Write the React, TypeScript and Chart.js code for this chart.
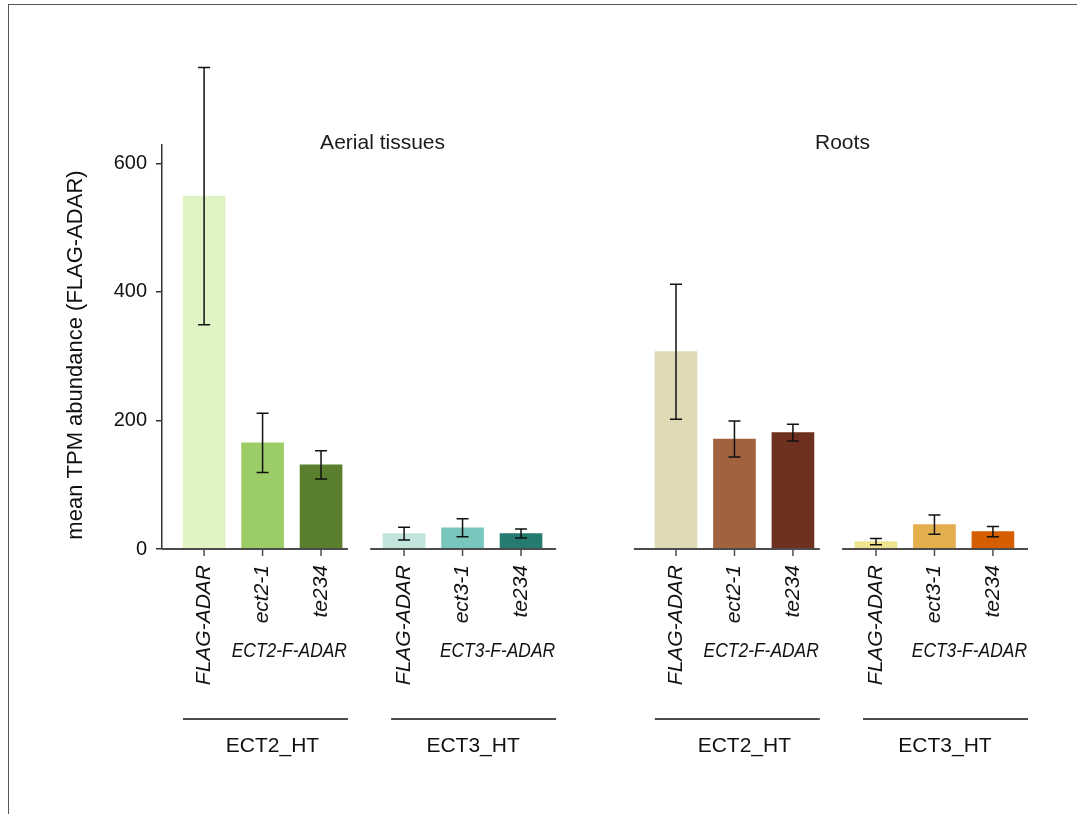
import { useEffect, useRef } from "react";
import { Chart, registerables } from "chart.js";

Chart.register(...registerables);

// ---------------- data ----------------
const panelTitles = ["Aerial tissues", "Roots"];
const groupLabels = ["ECT2_HT", "ECT3_HT"];
const constructLabels = ["ECT2-F-ADAR", "ECT3-F-ADAR"];
const genotypesECT2 = ["FLAG-ADAR", "ect2-1", "te234"];
const genotypesECT3 = ["FLAG-ADAR", "ect3-1", "te234"];

const aerialECT2Mean = [549, 165, 131];
const aerialECT2Err = [200, 46, 22];
const aerialECT3Mean = [24, 33, 24];
const aerialECT3Err = [10, 14, 7];

const rootsECT2Mean = [307, 171, 181];
const rootsECT2Err = [105, 28, 13];
const rootsECT3Mean = [11.5, 38, 27];
const rootsECT3Err = [4.7, 15, 8];

const yTicks = [0, 200, 400, 600];
const yTitle = "mean TPM abundance (FLAG-ADAR)";

const aerialECT2Colors = ["#e0f3c2", "#9bcc66", "#5a7f2d"];
const aerialECT3Colors = ["#c2e4dd", "#79c6bc", "#257b70"];
const rootsECT2Colors = ["#dfd9b6", "#a3623f", "#6e301f"];
const rootsECT3Colors = ["#ede38e", "#e3ae4c", "#d55e00"];

// ---------------- layout ----------------
const GROUP_GAP = 3.42;
const PANEL_GAP = 8.07;
const SEG_PAD = [
  [0.72, 0.46],
  [0.58, 0.6],
];
const GROUP_LINE_PX = 165;
const GROUP_LABEL_OFFSET = [75.5, 83];
const TITLE_OFFSET = [20, 8];
const FONT = '"Liberation Sans", Arial, Helvetica, sans-serif';

export default function App() {
  const ref = useRef<HTMLCanvasElement>(null);

  useEffect(() => {
    const canvas = ref.current;
    if (!canvas) return;

    const means = [
      [aerialECT2Mean, aerialECT3Mean],
      [rootsECT2Mean, rootsECT3Mean],
    ];
    const errs = [
      [aerialECT2Err, aerialECT3Err],
      [rootsECT2Err, rootsECT3Err],
    ];
    const colors = [
      [aerialECT2Colors, aerialECT3Colors],
      [rootsECT2Colors, rootsECT3Colors],
    ];
    const genos = [genotypesECT2, genotypesECT3];

    const xOf = (p: number, g: number, i: number) => p * PANEL_GAP + g * GROUP_GAP + i;

    const points: { x: number; y: number }[] = [];
    const bg: string[] = [];
    const errList: number[] = [];
    for (let p = 0; p < 2; p++)
      for (let g = 0; g < 2; g++)
        for (let i = 0; i < 3; i++) {
          points.push({ x: xOf(p, g, i), y: means[p][g][i] });
          bg.push(colors[p][g][i]);
          errList.push(errs[p][g][i]);
        }

    const xMin = -SEG_PAD[0][0];
    const xMax = xOf(1, 1, 2) + SEG_PAD[1][1];

    const decor = {
      id: "decor",
      afterDatasetsDraw(chart: any) {
        const ctx = chart.ctx as CanvasRenderingContext2D;
        const xs = chart.scales.x;
        const ys = chart.scales.y;
        const base = ys.getPixelForValue(0);
        const meta = chart.getDatasetMeta(0);
        ctx.save();

        // error bars
        ctx.strokeStyle = "#111";
        ctx.lineWidth = 1.5;
        meta.data.forEach((el: any, k: number) => {
          const m = points[k].y;
          const e = errList[k];
          const x = el.x;
          const y1 = ys.getPixelForValue(m + e);
          const y2 = ys.getPixelForValue(Math.max(m - e, 0));
          ctx.beginPath();
          ctx.moveTo(x, y1);
          ctx.lineTo(x, y2);
          ctx.moveTo(x - 6, y1);
          ctx.lineTo(x + 6, y1);
          ctx.moveTo(x - 6, y2);
          ctx.lineTo(x + 6, y2);
          ctx.stroke();
        });

        for (let p = 0; p < 2; p++) {
          for (let g = 0; g < 2; g++) {
            const segStart = xs.getPixelForValue(xOf(p, g, 0) - SEG_PAD[g][0]);
            const segEnd = xs.getPixelForValue(xOf(p, g, 2) + SEG_PAD[g][1]);
            // baseline
            ctx.strokeStyle = "#4d4d4d";
            ctx.lineWidth = 1.8;
            ctx.beginPath();
            ctx.moveTo(segStart, base);
            ctx.lineTo(segEnd, base);
            ctx.stroke();
            // ticks + rotated labels
            for (let i = 0; i < 3; i++) {
              const cx = xs.getPixelForValue(xOf(p, g, i));
              ctx.strokeStyle = "#4d4d4d";
              ctx.lineWidth = 1.5;
              ctx.beginPath();
              ctx.moveTo(cx, base);
              ctx.lineTo(cx, base + 7);
              ctx.stroke();

              ctx.save();
              ctx.translate(cx, 565);
              ctx.rotate(-Math.PI / 2);
              ctx.font = `italic 21px ${FONT}`;
              ctx.fillStyle = "#111";
              ctx.textAlign = "right";
              ctx.textBaseline = "middle";
              ctx.fillText(genos[g][i], 0, 0);
              ctx.restore();
            }
            // construct label (condensed italic)
            ctx.save();
            ctx.translate(segEnd - 1, 651);
            ctx.scale(0.83, 1);
            ctx.font = `italic 21px ${FONT}`;
            ctx.fillStyle = "#111";
            ctx.textAlign = "right";
            ctx.textBaseline = "middle";
            ctx.fillText(constructLabels[g], 0, 0);
            ctx.restore();
            // group line
            ctx.strokeStyle = "#111";
            ctx.lineWidth = 1.5;
            ctx.beginPath();
            ctx.moveTo(segEnd - GROUP_LINE_PX, 719);
            ctx.lineTo(segEnd, 719);
            ctx.stroke();
            // group label
            ctx.font = `21px ${FONT}`;
            ctx.fillStyle = "#111";
            ctx.textAlign = "center";
            ctx.textBaseline = "middle";
            ctx.fillText(groupLabels[g], segEnd - GROUP_LABEL_OFFSET[g], 746);
          }
          // panel title
          const mid = xs.getPixelForValue((xOf(p, 0, 2) + xOf(p, 1, 0)) / 2);
          ctx.font = `21px ${FONT}`;
          ctx.fillStyle = "#1a1a1a";
          ctx.textAlign = "center";
          ctx.textBaseline = "middle";
          ctx.fillText(panelTitles[p], mid + TITLE_OFFSET[p], 143);
        }

        // y title
        ctx.save();
        ctx.translate(76, 355);
        ctx.rotate(-Math.PI / 2);
        ctx.font = `22px ${FONT}`;
        ctx.fillStyle = "#111";
        ctx.textAlign = "center";
        ctx.textBaseline = "middle";
        ctx.fillText(yTitle, 0, 0);
        ctx.restore();

        ctx.restore();
      },
    };

    const chart = new Chart(canvas, {
      type: "bar",
      data: {
        datasets: [
          {
            data: points,
            backgroundColor: bg,
            borderWidth: 0,
            barThickness: 42,
          } as any,
        ],
      },
      options: {
        responsive: false,
        animation: false,
        devicePixelRatio: 1,
        layout: { padding: { left: 0, right: 49, top: 145, bottom: 265 } },
        plugins: { legend: { display: false }, tooltip: { enabled: false } },
        scales: {
          x: {
            type: "linear",
            min: xMin,
            max: xMax,
            offset: false,
            display: false,
          },
          y: {
            min: 0,
            max: 628.5,
            afterFit: (s: any) => {
              s.width = 162;
            },
            afterBuildTicks: (s: any) => {
              s.ticks = yTicks.map((v) => ({ value: v }));
            },
            ticks: {
              font: { family: FONT, size: 20 },
              color: "#111",
              padding: 9,
            },
            grid: {
              drawOnChartArea: false,
              drawTicks: true,
              tickLength: 6,
              color: "#333",
              lineWidth: 1.5,
            },
            border: { display: true, color: "#333", width: 1.5 },
          },
        },
      },
      plugins: [decor],
    } as any);

    return () => chart.destroy();
  }, []);

  return (
    <div
      style={{
        position: "fixed",
        left: 0,
        top: 0,
        width: 1077,
        height: 814,
        overflow: "hidden",
        background: "#fff",
      }}
    >
      <div
        style={{
          position: "absolute",
          left: 8,
          top: 4,
          width: 1300,
          height: 1100,
          borderLeft: "1px solid #555",
          borderTop: "1px solid #555",
        }}
      />
      <canvas
        ref={ref}
        width={1077}
        height={814}
        style={{ position: "absolute", left: 0, top: 0 }}
      />
    </div>
  );
}
